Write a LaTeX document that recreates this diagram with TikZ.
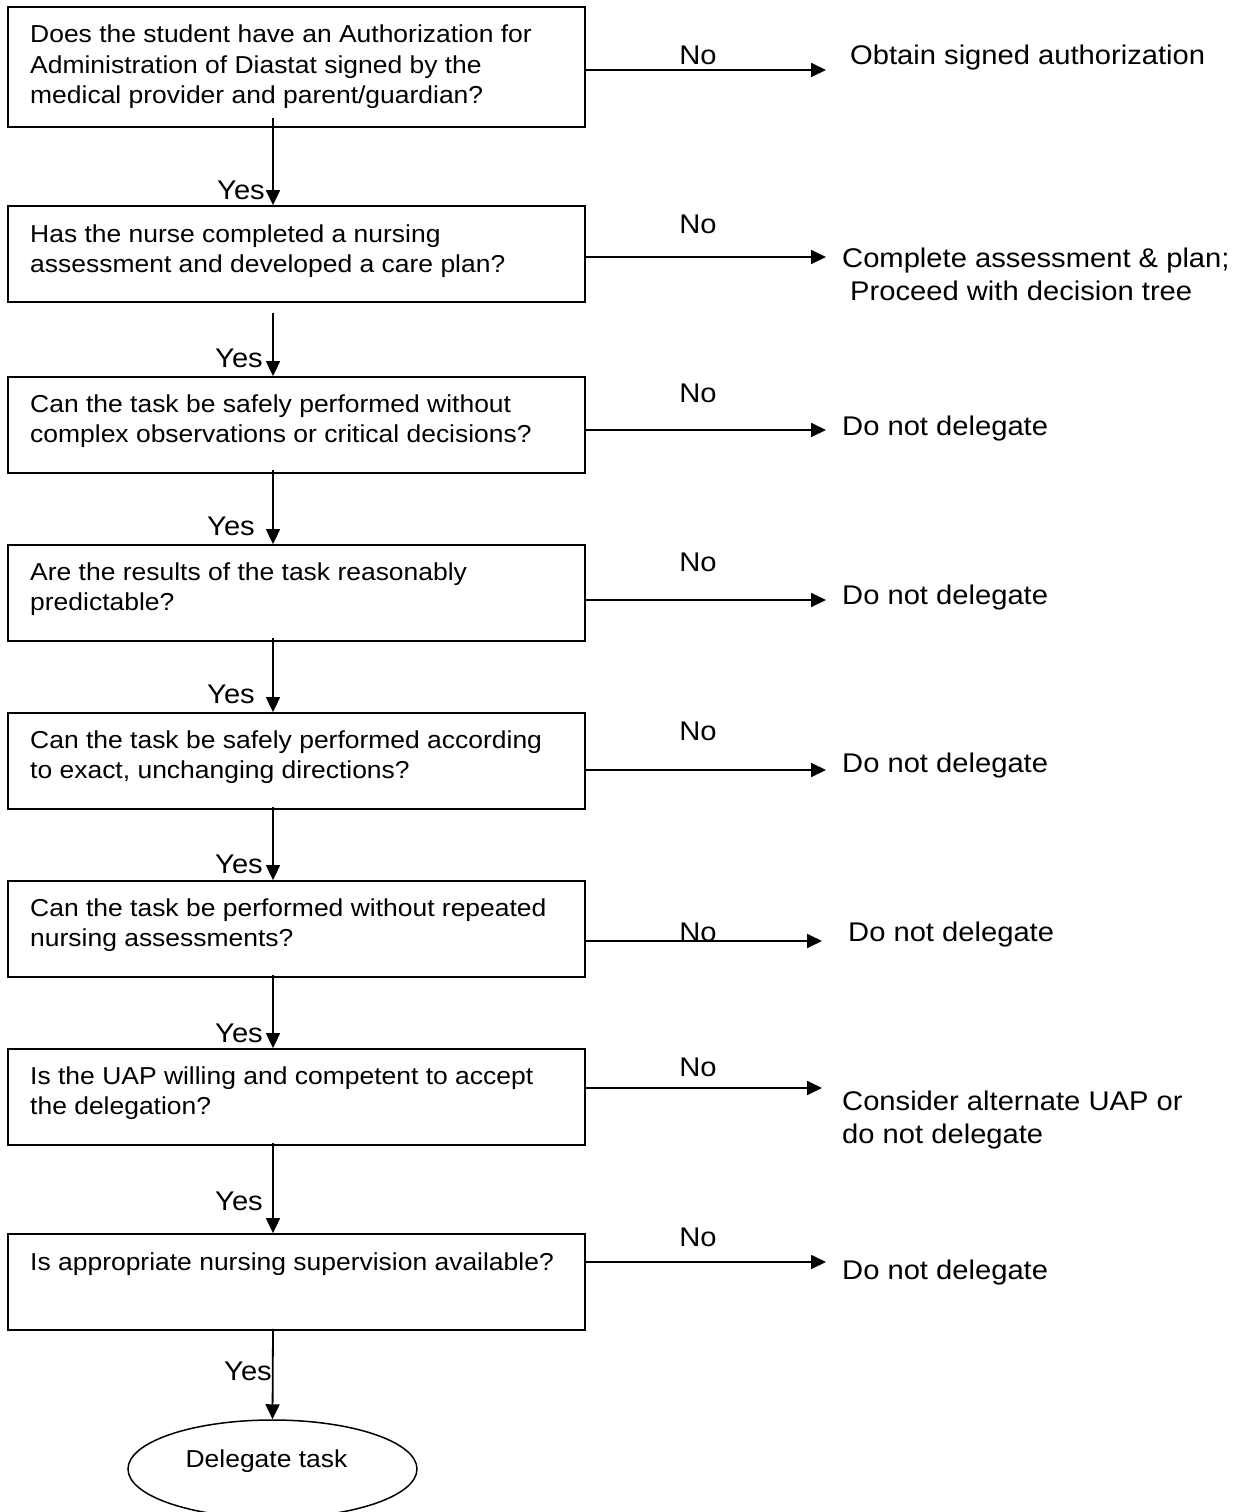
\documentclass[tikz,border=0pt]{standalone}
\usepackage{fontspec}
\setmainfont[FakeStretch=1.08]{Liberation Sans}
\usetikzlibrary{arrows.meta,shapes.geometric,calc}
\begin{document}
\begin{tikzpicture}[x=1pt,y=-1pt,
  box/.style={draw,line width=1.8pt,rectangle,inner sep=0pt,minimum width=577pt},
  qtext/.style={anchor=base west,inner sep=0pt,font=\fontsize{24.5}{30.5}\selectfont},
  lbl/.style={inner sep=0pt,font=\fontsize{27}{33}\selectfont},
  arr/.style={line width=1.8pt,-{Triangle[length=15pt,width=14pt]}}]
\useasboundingbox (0,0) rectangle (1243,1512);

% boxes
\node[box,minimum height=120pt] (b1) at (296.5,67) {};
\node[box,minimum height=96pt] (b2) at (296.5,254) {};
\node[box,minimum height=96pt] (b3) at (296.5,425) {};
\node[box,minimum height=96pt] (b4) at (296.5,593) {};
\node[box,minimum height=96pt] (b5) at (296.5,761) {};
\node[box,minimum height=96pt] (b6) at (296.5,929) {};
\node[box,minimum height=96pt] (b7) at (296.5,1097) {};
\node[box,minimum height=96pt] (b8) at (296.5,1282) {};
\node[draw,ellipse,line width=1.5pt,inner sep=0pt,minimum width=289pt,minimum height=98pt] (e) at (272.5,1469) {};

% box texts
\node[qtext] (t1) at (30,43) {\parbox[t]{560pt}{\raggedright Does the student have an Authorization for\\Administration of Diastat signed by the\\medical provider and parent/guardian?}};
\node[qtext] (t2) at (30,242) {\parbox[t]{560pt}{\raggedright Has the nurse completed a nursing\\assessment and developed a care plan?}};
\node[qtext] (t3) at (30,412) {\parbox[t]{560pt}{\raggedright Can the task be safely performed without\\complex observations or critical decisions?}};
\node[qtext] (t4) at (30,580) {\parbox[t]{560pt}{\raggedright Are the results of the task reasonably\\predictable?}};
\node[qtext] (t5) at (30,748) {\parbox[t]{560pt}{\raggedright Can the task be safely performed according\\to exact, unchanging directions?}};
\node[qtext] (t6) at (30,916) {\parbox[t]{560pt}{\raggedright Can the task be performed without repeated\\nursing assessments?}};
\node[qtext] (t7) at (30,1084) {\parbox[t]{560pt}{\raggedright Is the UAP willing and competent to accept\\the delegation?}};
\node[qtext] (t8) at (30,1270) {Is appropriate nursing supervision available?};
\node[qtext,anchor=base] (te) at (266.5,1467) {Delegate task};

% horizontal "No" arrows
\coordinate (h1) at (826,70);
\coordinate (h2) at (826,257);
\coordinate (h3) at (826,430);
\coordinate (h4) at (826,600);
\coordinate (h5) at (826,770);
\coordinate (h6) at (822,941);
\coordinate (h7) at (822,1088);
\coordinate (h8) at (826,1262);
\foreach \i in {1,...,8} { \draw[arr] (b\i.east |- h\i) -- (h\i); }

% No labels
\node[lbl,anchor=base] (n1) at (698,65) {No};
\node[lbl,anchor=base] (n2) at (698,233) {No};
\node[lbl,anchor=base] (n3) at (698,402) {No};
\node[lbl,anchor=base] (n4) at (698,571) {No};
\node[lbl,anchor=base] (n5) at (698,740) {No};
\node[lbl,anchor=base] (n6) at (698,941) {No};
\node[lbl,anchor=base] (n7) at (698,1076) {No};
\node[lbl,anchor=base] (n8) at (698,1246) {No};

% outcomes
\node[lbl,anchor=base west] (o1) at (850,65) {Obtain signed authorization};
\node[lbl,anchor=base west] (o2) at (842,267) {\parbox[t]{400pt}{\raggedright Complete assessment \& plan;\\\hspace*{8pt}Proceed with decision tree}};
\node[lbl,anchor=base west] (o3) at (842,435) {Do not delegate};
\node[lbl,anchor=base west] (o4) at (842,604) {Do not delegate};
\node[lbl,anchor=base west] (o5) at (842,772) {Do not delegate};
\node[lbl,anchor=base west] (o6) at (848,941) {Do not delegate};
\node[lbl,anchor=base west] (o7) at (842,1110) {\parbox[t]{400pt}{\raggedright Consider alternate UAP or\\do not delegate}};
\node[lbl,anchor=base west] (o8) at (842,1279) {Do not delegate};

% vertical "Yes" arrows
\draw[arr] ([xshift=-23.5pt,yshift=10pt]b1.south) -- ([xshift=-23.5pt]b2.north);
\draw[arr] ([xshift=-23.5pt,yshift=-10pt]b2.south) -- ([xshift=-23.5pt]b3.north);
\draw[arr] ([xshift=-23.5pt,yshift=4pt]b3.south) -- ([xshift=-23.5pt]b4.north);
\draw[arr] ([xshift=-23.5pt,yshift=4pt]b4.south) -- ([xshift=-23.5pt]b5.north);
\draw[arr] ([xshift=-23.5pt,yshift=3pt]b5.south) -- ([xshift=-23.5pt]b6.north);
\draw[arr] ([xshift=-23.5pt,yshift=3pt]b6.south) -- ([xshift=-23.5pt]b7.north);
\draw[arr] ([xshift=-23.5pt,yshift=3pt]b7.south) -- ([xshift=-23.5pt]b8.north);
\draw[arr] ([xshift=-23.5pt,yshift=2pt]b8.south) -- (e.north);

% Yes labels
\node[lbl,anchor=base east] (y1) at (265,199) {Yes};
\node[lbl,anchor=base east] (y2) at (263,367) {Yes};
\node[lbl,anchor=base east] (y3) at (255,535) {Yes};
\node[lbl,anchor=base east] (y4) at (255,703) {Yes};
\node[lbl,anchor=base east] (y5) at (263,873) {Yes};
\node[lbl,anchor=base east] (y6) at (263,1042) {Yes};
\node[lbl,anchor=base east] (y7) at (263,1210) {Yes};
\node[lbl,anchor=base east] (y8) at (272,1380) {Yes};
\end{tikzpicture}
\end{document}
